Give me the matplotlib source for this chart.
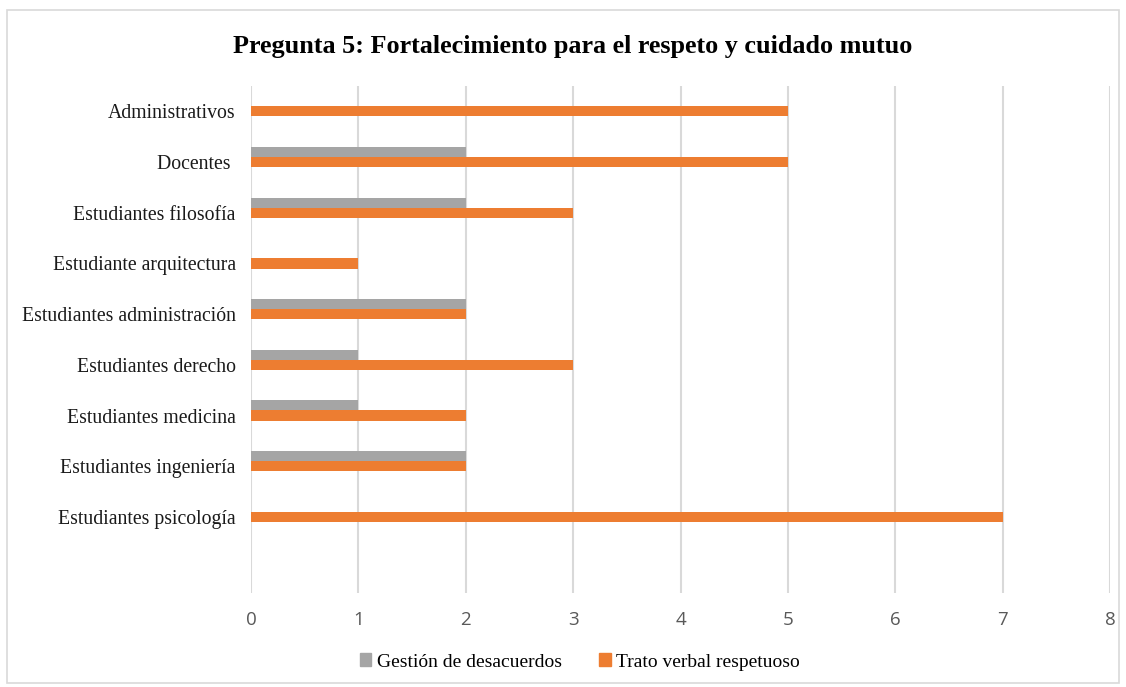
import matplotlib
matplotlib.use("Agg")
import matplotlib.pyplot as plt
from matplotlib.patches import Rectangle, Patch

categories = ["Administrativos", "Docentes ", "Estudiantes filosofía", "Estudiante arquitectura",
              "Estudiantes administración", "Estudiantes derecho", "Estudiantes medicina",
              "Estudiantes ingeniería", "Estudiantes psicología", ""]
gestion = [0, 2, 2, 0, 2, 1, 1, 2, 0, 0]
trato = [5, 5, 3, 1, 2, 3, 2, 2, 7, 0]
series_names = ["Gestión de desacuerdos", "Trato verbal respetuoso"]
xticks = [0, 1, 2, 3, 4, 5, 6, 7, 8]

c_gray = "#A5A5A5"
c_orange = "#ED7D31"
serif = ["Liberation Serif", "DejaVu Serif"]

fig = plt.figure(figsize=(11.26, 6.87), dpi=100)
fig.patches.append(Rectangle((7/1126, 1-683/687), 1112/1126, 673/687, transform=fig.transFigure,
                             fill=False, edgecolor="#D9D9D9", linewidth=1.2))

ax = fig.add_axes([251/1126, 1-593/687, (1110-251)/1126, (593-86)/687])
pos = list(range(len(categories)))
h = 0.2
ax.barh([p - h for p in pos], gestion, height=h, color=c_gray, align="center", zorder=3)
ax.barh(pos, trato, height=h, color=c_orange, align="center", zorder=3)

ax.set_ylim(len(categories) - 0.5, -0.5)
ax.set_xlim(0, 8)
ax.set_xticks(xticks)
ax.set_xticklabels([str(t) for t in xticks], fontsize=13.5, color="#595959", family=["Open Sans", "DejaVu Sans"])
ax.set_yticks(pos)
ax.set_yticklabels(categories, fontsize=14.2, family=serif, color="#1a1a1a")
ax.tick_params(axis="both", length=0)
ax.tick_params(axis="x", pad=13)
ax.tick_params(axis="y", pad=11)
for s in ax.spines.values():
    s.set_visible(False)
ax.grid(axis="x", color="#D9D9D9", linewidth=1.5, zorder=0)
ax.set_axisbelow(True)

fig.text(0.509, 1-46/687, "Pregunta 5: Fortalecimiento para el respeto y cuidado mutuo",
         ha="center", va="center", fontsize=18.8, fontweight="bold", family=serif)

handles = [Patch(color=c_gray), Patch(color=c_orange)]
fig.legend(handles, series_names, loc="center", bbox_to_anchor=(0.515, 1-662/687), ncol=2,
           frameon=False, prop={"family": serif, "size": 14}, handlelength=0.6, handleheight=0.6,
           handletextpad=0.3, columnspacing=1.9)

fig.savefig("out.png", dpi=100)
